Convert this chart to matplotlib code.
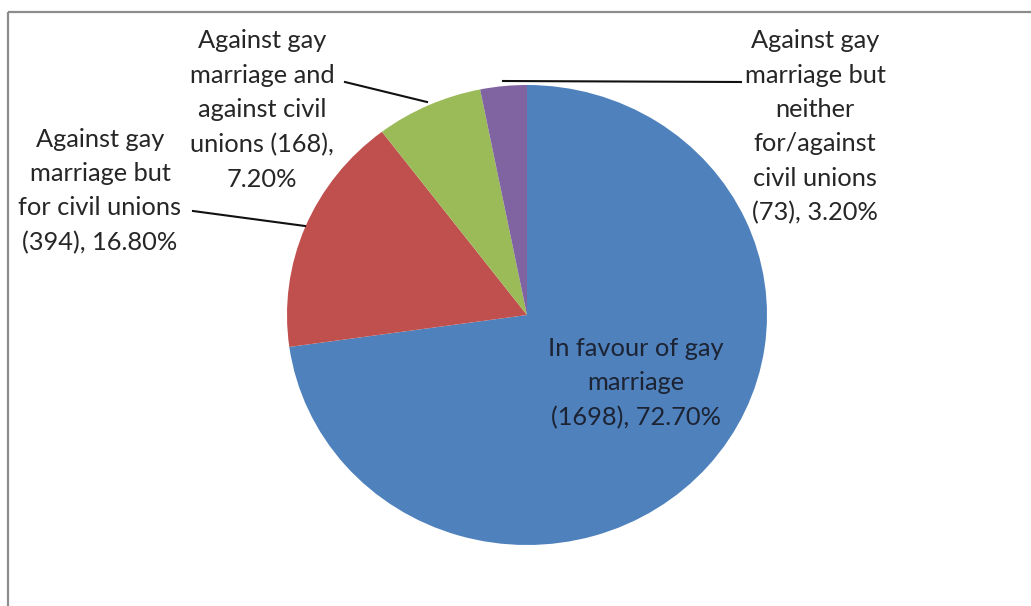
import matplotlib
matplotlib.use("Agg")
import matplotlib.pyplot as plt
from matplotlib.patches import Rectangle

categories = [
    "In favour of gay\nmarriage\n(1698), 72.70%",
    "Against gay\nmarriage but\nfor civil unions\n(394), 16.80%",
    "Against gay\nmarriage and\nagainst civil\nunions (168),\n7.20%",
    "Against gay\nmarriage but\nneither\nfor/against\ncivil unions\n(73), 3.20%",
]
values = [1698, 394, 168, 73]
colors = ["#4F81BD", "#C0504D", "#9BBB59", "#8064A2"]

W, H = 1031, 606
fig = plt.figure(figsize=(W / 100, H / 100), dpi=100)
plt.rcParams['font.family'] = ['Lato', 'DejaVu Sans']

# pie axes (slightly elliptical as in the reference)
cx, cy, rx, ry = 527, 315, 240, 230
pax = fig.add_axes([(cx - rx) / W, (H - cy - ry) / H, 2 * rx / W, 2 * ry / H])
pax.pie(values, colors=colors, startangle=90, counterclock=False,
        wedgeprops=dict(linewidth=0))
pax.set_aspect('auto')
pax.set_xlim(-1, 1)
pax.set_ylim(-1, 1)
pax.axis('off')

# overlay axes in pixel coordinates
ax = fig.add_axes([0, 0, 1, 1], facecolor='none')
ax.set_xlim(0, W)
ax.set_ylim(H, 0)
ax.axis('off')

ax.add_patch(Rectangle((8, 12), W + 20, H + 20, fill=False, edgecolor='#8c8c8c', lw=1.6))

fs = 18.3
ls = 1.6
tc = '#262626'
ax.text(636, 383, categories[0], ha='center', va='center', fontsize=fs, color='#1c2333', linespacing=ls)
ax.text(100, 191, categories[1], ha='center', va='center', fontsize=fs, color=tc, linespacing=ls)
ax.text(262, 110, categories[2], ha='center', va='center', fontsize=fs, color=tc, linespacing=ls)
ax.text(815, 127, categories[3], ha='center', va='center', fontsize=fs, color=tc, linespacing=ls)

lc = '#111111'
ax.plot([193, 305], [211, 226], color=lc, lw=1.5)
ax.plot([345, 427], [82, 102], color=lc, lw=1.5)
ax.plot([741, 503], [82, 81], color=lc, lw=1.5)

fig.savefig("out.png", dpi=100)
